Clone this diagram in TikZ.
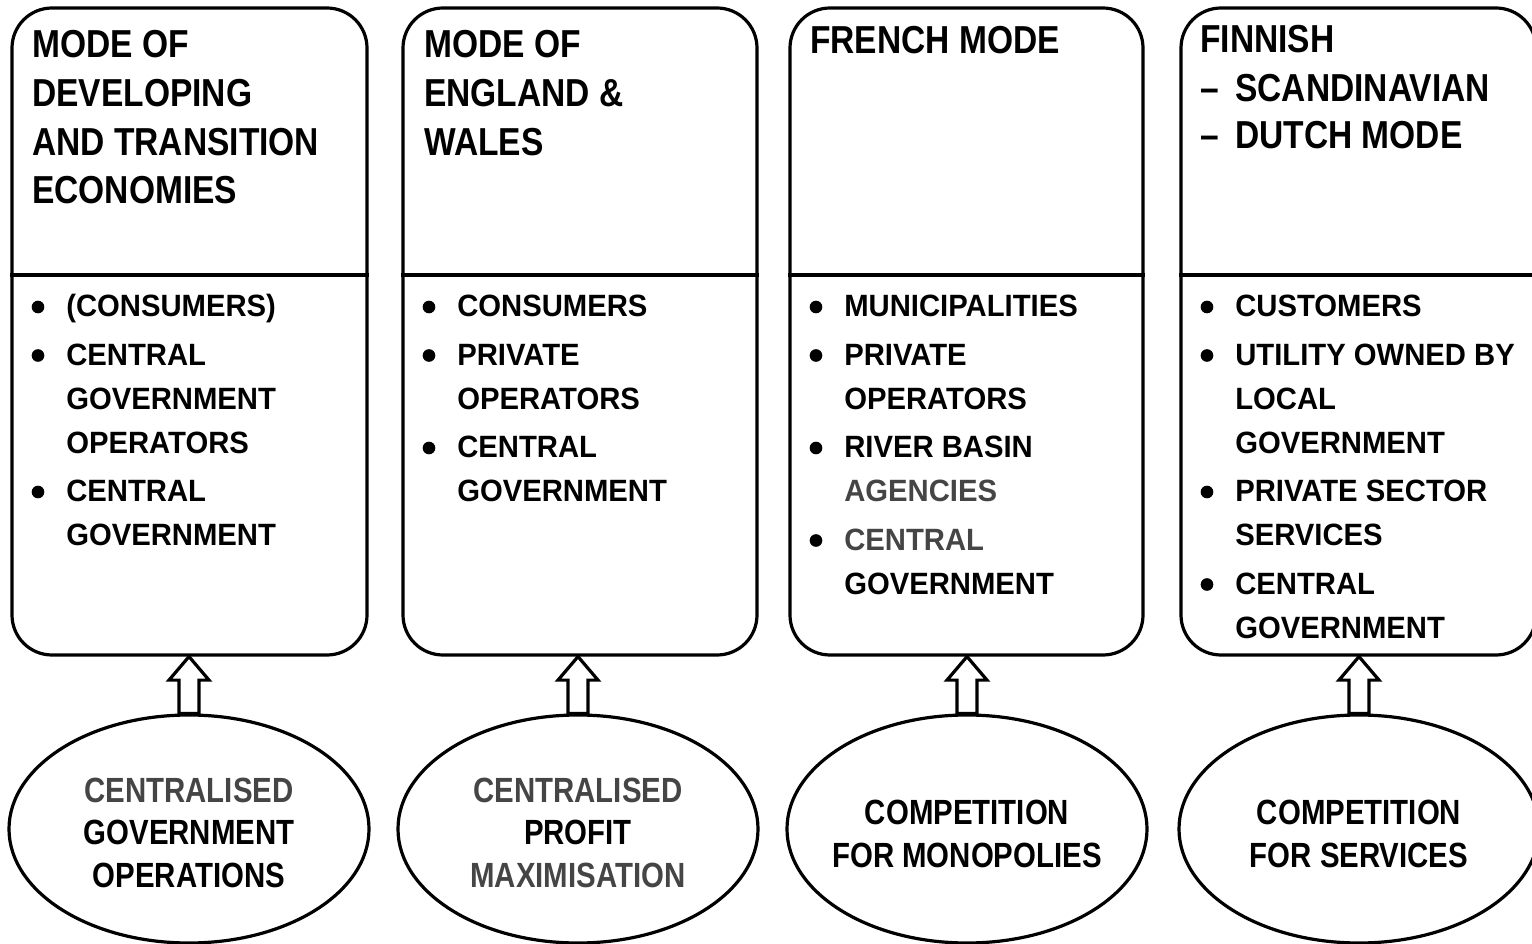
\documentclass[tikz,border=0pt]{standalone}
\usepackage{fontspec}
\setmainfont{Liberation Sans}
\newfontfamily\hdfont[FakeStretch=0.86]{Liberation Sans}
\newfontfamily\elfont[FakeStretch=0.84]{Liberation Sans}
\newfontfamily\bdfont[FakeStretch=0.95]{Liberation Sans}
\usetikzlibrary{shapes.geometric,calc}
\definecolor{tgray}{HTML}{454545}
\tikzset{
  lw/.style={line width=2.4pt},
  modebox/.style={draw, lw, rounded corners=30pt, minimum height=485.25pt, inner sep=0pt},
  oval/.style={draw, lw, ellipse, minimum width=270pt, minimum height=171pt, inner sep=0pt},
  hd/.style={anchor=base west, inner sep=0pt, font=\hdfont\bfseries\fontsize{29.25pt}{32pt}\selectfont},
  bd/.style={anchor=base west, inner sep=0pt, font=\bdfont\bfseries\fontsize{23.1pt}{26pt}\selectfont},
  el/.style={anchor=base, inner sep=0pt, font=\elfont\bfseries\fontsize{26.25pt}{30pt}\selectfont},
  bul/.style={circle, fill, inner sep=0pt, minimum size=9.5pt},
  uparrow/.style={lw, fill=white, line join=miter},
  divider/.style={lw},
}
\begin{document}
\begin{tikzpicture}[x=0.75pt, y=-0.75pt]
\useasboundingbox (0,0) rectangle (1532,944);
\clip (0,0) rectangle (1532,944);

% boxes
\node[modebox, minimum width=266.25pt] (B1) at (189.5,331.5) {};
\node[modebox, minimum width=265.5pt] (B2) at (580,331.5) {};
\node[modebox, minimum width=264.75pt] (B3) at (966.5,331.5) {};
\node[modebox, minimum width=266.25pt] (B4) at (1358.5,331.5) {};
\foreach \b in {B1,B2,B3,B4}{
  \draw[divider] (\b.west |- 0,275) -- (\b.east |- 0,275);
}

% ellipses
\node[oval] (E1) at (189,829) {};
\node[oval] (E2) at (578,829) {};
\node[oval] (E3) at (967,829) {};
\node[oval] (E4) at (1359,829) {};

% block arrows
\foreach \e/\b in {E1/B1,E2/B2,E3/B3,E4/B4}{
  \draw[uparrow] ($(\e.north)+(-10,0)$) |- ($(\e.north |- \b.south)+(-20,23.5)$)
     -- (\e.north |- \b.south) -- ++(20,23.5) -- ++(-10,0) -- ($(\e.north)+(10,0)$) -- cycle;
}

% ---- column 1
\node[hd] (h1a) at (32,58) {MODE OF};
\node[hd] (h1b) at (32,107) {DEVELOPING};
\node[hd] (h1c) at (32,155.5) {AND TRANSITION};
\node[hd] (h1d) at (32,204) {ECONOMIES};
\node[bul] (u1a) at (38,307) {};
\node[bd] (t1a) at (66,317) {(CONSUMERS)};
\node[bul] (u1b) at (38,355.5) {};
\node[bd] (t1b) at (66,365.5) {CENTRAL};
\node[bd] (t1c) at (66,409.5) {GOVERNMENT};
\node[bd] (t1d) at (66,453.5) {OPERATORS};
\node[bul] (u1c) at (38,492) {};
\node[bd] (t1e) at (66,502) {CENTRAL};
\node[bd] (t1f) at (66,546) {GOVERNMENT};

% ---- column 2
\node[hd] (h2a) at (424,58) {MODE OF};
\node[hd] (h2b) at (424,107) {ENGLAND \&};
\node[hd] (h2c) at (424,155.5) {WALES};
\node[bul] (u2a) at (429,307) {};
\node[bd] (t2a) at (457,317) {CONSUMERS};
\node[bul] (u2b) at (429,355.5) {};
\node[bd] (t2b) at (457,365.5) {PRIVATE};
\node[bd] (t2c) at (457,409.5) {OPERATORS};
\node[bul] (u2c) at (429,448) {};
\node[bd] (t2d) at (457,458) {CENTRAL};
\node[bd] (t2e) at (457,502) {GOVERNMENT};

% ---- column 3
\node[hd] (h3a) at (810,54) {FRENCH MODE};
\node[bul] (u3a) at (816,307) {};
\node[bd] (t3a) at (844,317) {MUNICIPALITIES};
\node[bul] (u3b) at (816,355.5) {};
\node[bd] (t3b) at (844,365.5) {PRIVATE};
\node[bd] (t3c) at (844,409.5) {OPERATORS};
\node[bul] (u3c) at (816,448) {};
\node[bd] (t3d) at (844,458) {RIVER BASIN};
\node[bd, text=tgray] (t3e) at (844,502) {AGENCIES};
\node[bul] (u3d) at (816,540.5) {};
\node[bd, text=tgray] (t3f) at (844,550.5) {CENTRAL};
\node[bd] (t3g) at (844,594.5) {GOVERNMENT};

% ---- column 4
\node[hd] (h4a) at (1200,53) {FINNISH};
\node[hd] (h4b) at (1200,101.5) {\makebox[26.25pt][l]{–}SCANDINAVIAN};
\node[hd] (h4c) at (1200,149) {\makebox[26.25pt][l]{–}DUTCH MODE};
\node[bul] (u4a) at (1207,307) {};
\node[bd] (t4a) at (1235,317) {CUSTOMERS};
\node[bul] (u4b) at (1207,355.5) {};
\node[bd] (t4b) at (1235,365.5) {UTILITY OWNED BY};
\node[bd] (t4c) at (1235,409.5) {LOCAL};
\node[bd] (t4d) at (1235,453.5) {GOVERNMENT};
\node[bul] (u4c) at (1207,492) {};
\node[bd] (t4e) at (1235,502) {PRIVATE SECTOR};
\node[bd] (t4f) at (1235,546) {SERVICES};
\node[bul] (u4d) at (1207,584.5) {};
\node[bd] (t4g) at (1235,594.5) {CENTRAL};
\node[bd] (t4h) at (1235,638.5) {GOVERNMENT};

% ---- ellipse texts
\node[el, text=tgray] (k1a) at (189,802) {CENTRALISED};
\node[el] (k1b) at (189,844.5) {GOVERNMENT};
\node[el] (k1c) at (189,887) {OPERATIONS};
\node[el, text=tgray] (k2a) at (578,802) {CENTRALISED};
\node[el] (k2b) at (578,844.5) {PROFIT};
\node[el, text=tgray] (k2c) at (578,887) {MAXIMISATION};
\node[el] (k3a) at (967,824) {COMPETITION};
\node[el] (k3b) at (967,867) {FOR MONOPOLIES};
\node[el] (k4a) at (1359,824) {COMPETITION};
\node[el] (k4b) at (1359,867) {FOR SERVICES};
\end{tikzpicture}
\end{document}
